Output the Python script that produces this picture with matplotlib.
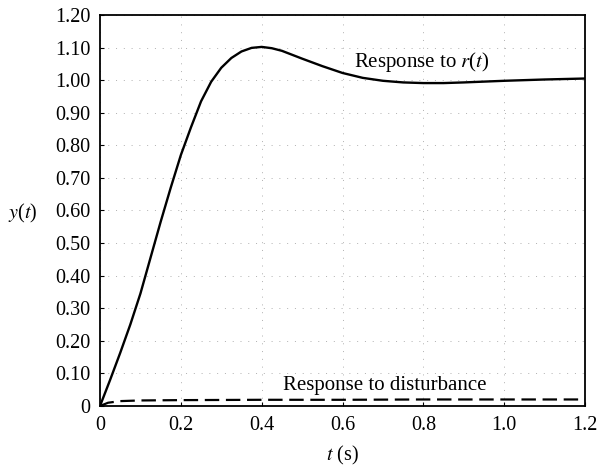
import matplotlib
matplotlib.use("Agg")
import matplotlib.pyplot as plt

plt.rcParams['font.family'] = ['Liberation Serif', 'DejaVu Serif']
plt.rcParams['mathtext.fontset'] = 'stix'

# response to the reference input r(t)
t_r = [0.0, 0.025, 0.05, 0.075, 0.1, 0.125, 0.15, 0.175, 0.2, 0.225, 0.25,
       0.275, 0.3, 0.325, 0.35, 0.375, 0.4, 0.425, 0.45, 0.5, 0.55, 0.6,
       0.65, 0.7, 0.75, 0.8, 0.85, 0.9, 1.0, 1.1, 1.2]
y_r = [0.0, 0.08, 0.163, 0.25, 0.345, 0.455, 0.565, 0.67, 0.77, 0.855, 0.935,
       0.995, 1.038, 1.068, 1.088, 1.099, 1.102, 1.098, 1.09, 1.066, 1.043, 1.022,
       1.007, 0.998, 0.993, 0.991, 0.991, 0.993, 0.998, 1.002, 1.005]

# response to the disturbance
t_d = [0.0, 0.02, 0.05, 0.1, 0.2, 0.4, 0.6, 0.8, 1.0, 1.2]
y_d = [0.0, 0.010, 0.015, 0.017, 0.018, 0.019, 0.019, 0.020, 0.020, 0.020]

x_ticks = [0, 0.2, 0.4, 0.6, 0.8, 1.0, 1.2]
x_tick_labels = ['0', '0.2', '0.4', '0.6', '0.8', '1.0', '1.2']
y_ticks = [0, 0.1, 0.2, 0.3, 0.4, 0.5, 0.6, 0.7, 0.8, 0.9, 1.0, 1.1, 1.2]
y_tick_labels = ['0'] + ['%.2f' % v for v in y_ticks[1:]]

fig = plt.figure(figsize=(5.97, 4.68), dpi=100)
ax = fig.add_axes([0.1675, 0.1325, 0.8125, 0.8355])

ax.plot(t_r, y_r, color='black', linewidth=1.7, solid_joinstyle='round')
ax.plot(t_d, y_d, color='black', linewidth=1.6, linestyle=(0, (6.5, 3)))

ax.set_xlim(0, 1.2)
ax.set_ylim(0, 1.2)
ax.set_xticks(x_ticks)
ax.set_xticklabels(x_tick_labels)
ax.set_yticks(y_ticks)
ax.set_yticklabels(y_tick_labels)
ax.tick_params(direction='in', length=3, width=0.8, labelsize=14.5, pad=7)
ax.grid(True, color='#b0b0b0', linestyle=(0, (1, 7)), linewidth=0.7)

for s in ax.spines.values():
    s.set_linewidth(1.3)

ax.text(0.795, 1.055, 'Response to $\\mathit{r}$($\\mathit{t}$)', fontsize=15,
        ha='center', va='center')
ax.text(0.705, 0.062, 'Response to disturbance', fontsize=15,
        ha='center', va='center')

ax.set_xlabel('$\\mathit{t}$ (s)', fontsize=14.5, labelpad=7)
fig.text(0.038, 1 - 213 / 468, '$\\mathit{y}$($\\mathit{t}$)', fontsize=14.5,
         ha='center', va='center')

fig.savefig('out.png', dpi=100)
